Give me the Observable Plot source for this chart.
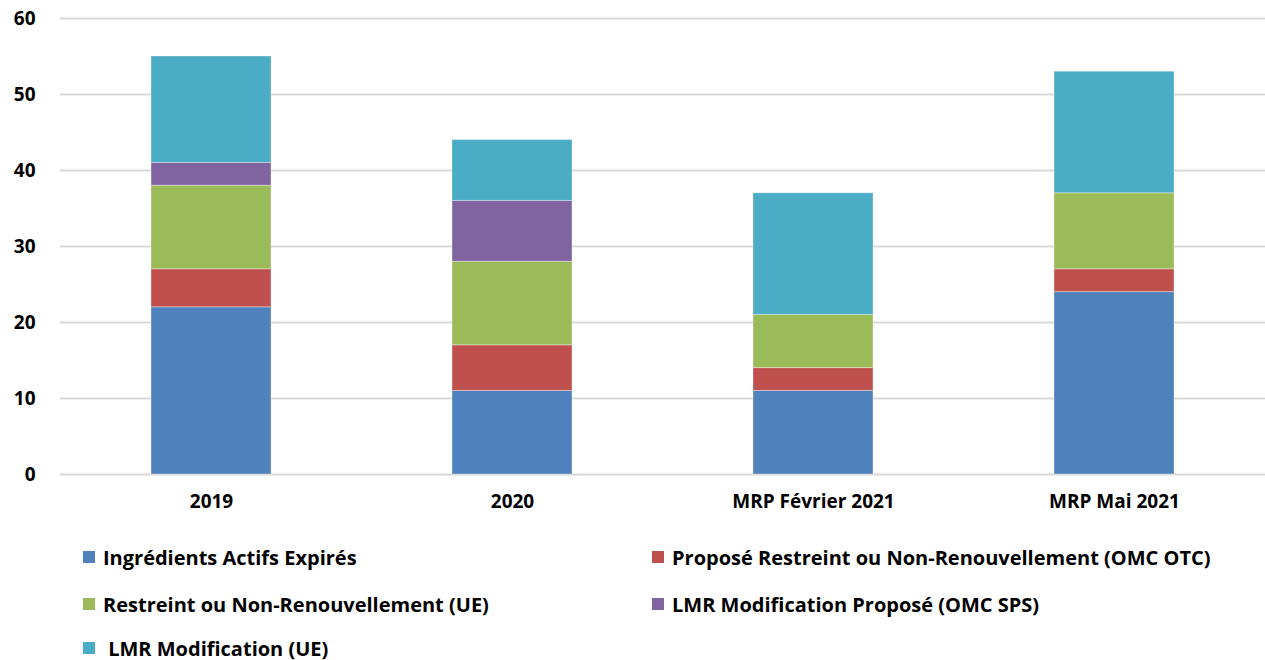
<!DOCTYPE html>
<html><head><meta charset="utf-8">
<script src="https://cdn.jsdelivr.net/npm/d3@7"></script>
<script src="https://cdn.jsdelivr.net/npm/@observablehq/plot@0.6"></script>
<style>
body{margin:0;background:#fff;font-family:"Open Sans",sans-serif;}
#wrap{position:relative;width:1265px;height:660px;}
.leg{position:absolute;font-weight:bold;font-size:20px;color:#000;display:flex;align-items:center;white-space:pre;}
.sw{width:12px;height:12px;margin-right:8px;display:inline-block;}
</style></head>
<body><div id="wrap"></div>
<script>
const categories = ["2019", "2020", "MRP Février 2021", "MRP Mai 2021"];
const seriesNames = [
  "Ingrédients Actifs Expirés",
  "Proposé Restreint ou Non-Renouvellement (OMC OTC)",
  "Restreint ou Non-Renouvellement (UE)",
  "LMR Modification Proposé (OMC SPS)",
  "LMR Modification (UE)"
];
const colors = ["#4F81BD", "#C0504D", "#9BBB59", "#8064A2", "#4BACC6"];
const expires = [22, 11, 11, 24];
const proposeOTC = [5, 6, 3, 3];
const restreintUE = [11, 11, 7, 10];
const lmrPropose = [3, 8, 0, 0];
const lmrUE = [14, 8, 16, 16];
const yTicks = [0, 10, 20, 30, 40, 50, 60];

const seriesValues = [expires, proposeOTC, restreintUE, lmrPropose, lmrUE];
const data = [];
seriesNames.forEach((s, i) => categories.forEach((c, j) => data.push({cat: c, series: s, value: seriesValues[i][j]})));

const plot = Plot.plot({
  width: 1265, height: 530,
  marginLeft: 60, marginRight: 0, marginTop: 18, marginBottom: 56,
  style: {fontFamily: "'Open Sans', sans-serif", fontSize: "19px", fontWeight: "bold", color: "#000"},
  x: {domain: categories, paddingInner: 0.6, paddingOuter: 0.3, label: null},
  y: {domain: [0, 60], label: null},
  color: {domain: seriesNames, range: colors},
  marks: [
    Plot.ruleY(yTicks, {stroke: "#d9d9d9", strokeWidth: 2}),
    Plot.barY(data, {x: "cat", y: "value", fill: "series", stroke: "#ffffff", strokeOpacity: 0.35, strokeWidth: 1}),
    Plot.axisX({tickSize: 0, tickPadding: 20, fontSize: 19, fontWeight: "bold", fill: "#000"}),
    Plot.axisY(yTicks, {tickSize: 0, tickPadding: 25, fontSize: 19, fontWeight: "bold", fill: "#000"})
  ]
});
const wrap = document.getElementById("wrap");
wrap.appendChild(plot);

const legPos = [[83, 557], [652, 557], [83, 604], [652, 604], [83, 648]];
seriesNames.forEach((s, i) => {
  const d = document.createElement("div");
  d.className = "leg";
  d.style.left = legPos[i][0] + "px";
  d.style.top = (legPos[i][1] - 13) + "px";
  d.style.height = "26px";
  const sw = document.createElement("span");
  sw.className = "sw"; sw.style.background = colors[i];
  d.appendChild(sw);
  d.appendChild(document.createTextNode((i === 4 ? " " : "") + s));
  wrap.appendChild(d);
});
</script></body></html>
